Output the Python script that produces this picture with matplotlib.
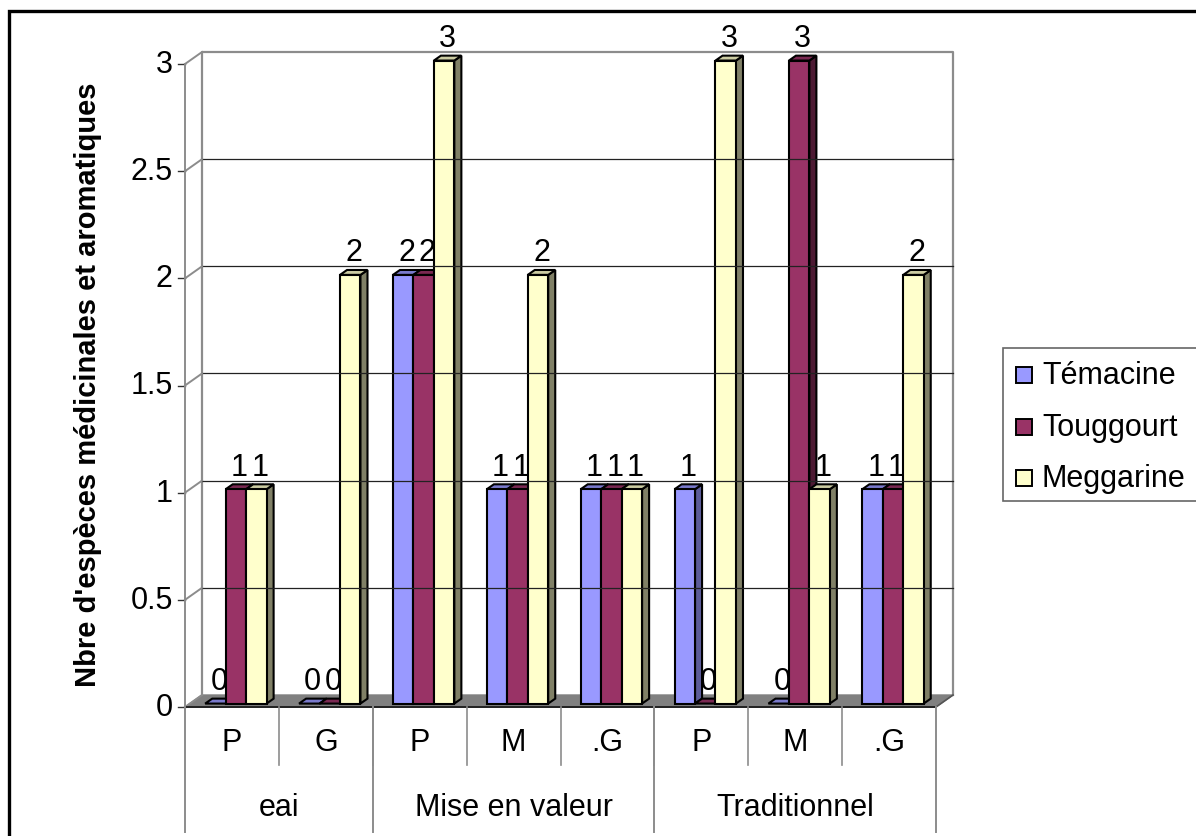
import matplotlib

matplotlib.use("Agg")
import matplotlib.pyplot as plt
from matplotlib.patches import Polygon, Rectangle

plt.rcParams["font.family"] = ["Liberation Sans", "DejaVu Sans"]

GROUPS = ["eai", "Mise en valeur", "Traditionnel"]
GROUP_SIZES = [2, 3, 3]
SUBCATS = ["P", "G", "P", "M", ".G", "P", "M", ".G"]
SERIES = ["Témacine", "Touggourt", "Meggarine"]
TEMACINE = [0, 0, 2, 1, 1, 1, 0, 1]
TOUGGOURT = [1, 0, 2, 1, 1, 0, 3, 1]
MEGGARINE = [1, 2, 3, 2, 1, 3, 1, 2]
YTICKS = [0, 0.5, 1, 1.5, 2, 2.5, 3]
YTICK_LABELS = ["0", "0.5", "1", "1.5", "2", "2.5", "3"]
YLABEL = "Nbre d'espèces médicinales et aromatiques"

# front, top, side colours for each series (old Excel palette)
FACE = ["#9999ff", "#993366", "#ffffcc"]
TOP = ["#7a7acc", "#7a2952", "#cccca3"]
SIDE = ["#5c5c99", "#4d1a33", "#808066"]

# pseudo-3d geometry, in data units (x: one category = 1, y: value)
WALL_DX, WALL_DY = 0.181, 0.056
BAR_DX, BAR_DY = 0.075, 0.023
BAR_W = 0.218
BAR_SHIFT_X, BAR_SHIFT_Y = 0.042, 0.016
FS = 22


def draw_walls(ax, n):
    top = YTICKS[-1]
    # grey floor
    ax.add_patch(Polygon([(0, 0), (n, 0), (n + WALL_DX, WALL_DY), (WALL_DX, WALL_DY)],
                         closed=True, facecolor="#808080", edgecolor="#808080", lw=1, clip_on=False))
    # back wall outline
    ax.plot([WALL_DX, WALL_DX, n + WALL_DX, n + WALL_DX],
            [WALL_DY, top + WALL_DY, top + WALL_DY, WALL_DY], color="#8c8c8c", lw=1.6, clip_on=False)
    for t in YTICKS[1:-1]:
        ax.plot([WALL_DX, n + WALL_DX], [t + WALL_DY, t + WALL_DY], color="#222222", lw=0.9, clip_on=False)
    # left wall diagonals + ticks
    for t, lab in zip(YTICKS, YTICK_LABELS):
        ax.plot([0, WALL_DX], [t, t + WALL_DY], color="#8c8c8c", lw=1.4, clip_on=False)
        ax.plot([-0.075, 0], [t, t], color="#333333", lw=1.0, clip_on=False)
        ax.text(-0.13, t, lab, ha="right", va="center", fontsize=FS, clip_on=False)
    ax.plot([n, n + WALL_DX], [0, WALL_DY], color="#555555", lw=1.2, clip_on=False)


def draw_bar(ax, x0, h, k):
    y0 = BAR_SHIFT_Y
    y1 = y0 + h
    x1 = x0 + BAR_W
    kw = dict(edgecolor="black", lw=1.5, joinstyle="miter", clip_on=False)
    ax.add_patch(Polygon([(x1, y0), (x1 + BAR_DX, y0 + BAR_DY), (x1 + BAR_DX, y1 + BAR_DY), (x1, y1)],
                         closed=True, facecolor=SIDE[k], **kw))
    ax.add_patch(Polygon([(x0, y1), (x1, y1), (x1 + BAR_DX, y1 + BAR_DY), (x0 + BAR_DX, y1 + BAR_DY)],
                         closed=True, facecolor=TOP[k], **kw))
    if h > 0:
        ax.add_patch(Rectangle((x0, y0), BAR_W, h, facecolor=FACE[k], **kw))
    ax.text(x0 + BAR_W / 2 + BAR_DX / 2, y1 + BAR_DY + 0.012, f"{h:g}",
            ha="center", va="bottom", fontsize=FS, clip_on=False)


def draw_axis_labels(ax, n):
    grey = "#8c8c8c"
    ax.plot([0, n], [0, 0], color="#222222", lw=1.4, clip_on=False)
    ax.plot([0, 0], [YTICKS[-1], -0.583], color=grey, lw=1.4, clip_on=False)
    for i, lab in enumerate(SUBCATS):
        ax.text(i + 0.5, -0.163, lab, ha="center", va="center", fontsize=FS, clip_on=False)
        if i > 0:
            ax.plot([i, i], [0, -0.27], color=grey, lw=1.2, clip_on=False)
    start = 0
    for g, size in zip(GROUPS, GROUP_SIZES):
        end = start + size
        ax.plot([end, end], [0, -0.583], color=grey, lw=1.4, clip_on=False)
        ax.text((start + end) / 2, -0.467, g, ha="center", va="center", fontsize=FS, clip_on=False)
        start = end
    ax.text(-1.03, 1.507, YLABEL, rotation=90, ha="center", va="center",
            fontsize=21, fontweight="bold", clip_on=False)


def draw_legend(fig):
    W, H = 1196, 837
    fig.patches.append(Rectangle((1003 / W, 1 - 502 / H), 200 / W, 153 / H, transform=fig.transFigure,
                                 facecolor="white", edgecolor="#666666", lw=1.2))
    for k, (name, y) in enumerate(zip(SERIES, [376, 428, 479])):
        fig.patches.append(Rectangle((1016 / W, 1 - (y + 8) / H), 16 / W, 16 / H, transform=fig.transFigure,
                                     facecolor=FACE[k], edgecolor="black", lw=1.4))
        fig.text(1042 / W, 1 - y / H, name, ha="left", va="center", fontsize=FS)


def main():
    fig = plt.figure(figsize=(11.96, 8.37), dpi=100)
    W, H = 1196, 837
    ax = fig.add_axes([185 / W, (H - 708) / H, (936 - 185) / W, (708 - 65) / H])
    n = len(SUBCATS)
    ax.set_xlim(0, n)
    ax.set_ylim(0, YTICKS[-1])
    ax.axis("off")

    draw_walls(ax, n)
    values = [TEMACINE, TOUGGOURT, MEGGARINE]
    for i in range(n):
        left = i + 0.5 - 1.5 * BAR_W + BAR_SHIFT_X
        for k, vals in enumerate(values):
            draw_bar(ax, left + k * BAR_W, vals[i], k)
    draw_axis_labels(ax, n)
    draw_legend(fig)

    # outer chart frame, runs off the right and bottom edges
    fig.patches.append(Rectangle((9 / W, -0.05), 1.1, 1 - 12 / H + 0.05, transform=fig.transFigure,
                                 facecolor="none", edgecolor="black", lw=2.4))
    fig.savefig("out.png", dpi=100)
    plt.close(fig)


if __name__ == "__main__":
    main()
